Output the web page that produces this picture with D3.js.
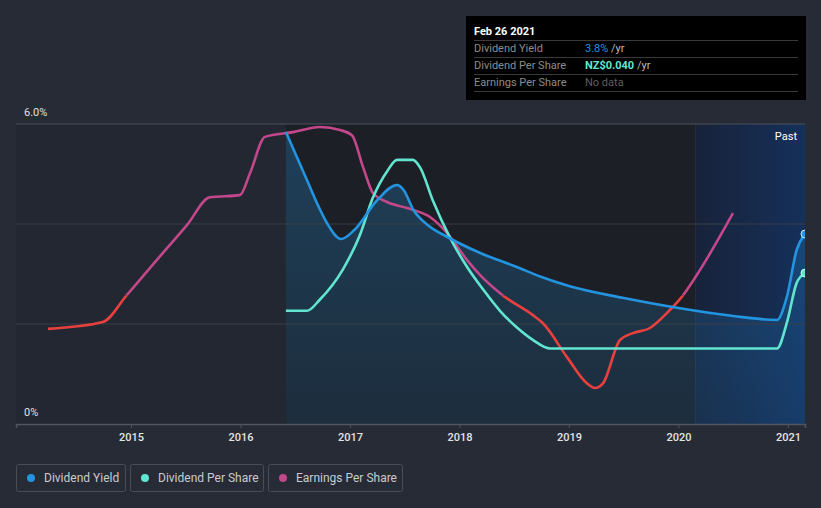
<!DOCTYPE html>
<html><head><meta charset="utf-8">
<script src="https://cdn.jsdelivr.net/npm/d3@7"></script>
<style>
body{margin:0;background:#262b36;}
svg{display:block;font-family:Roboto,"Open Sans",sans-serif;}
</style></head><body>
<svg id="c" width="821" height="508"></svg>
<script>
// ---- data (decimal years) ----
const xTickYears = [2015, 2016, 2017, 2018, 2019, 2020, 2021];
const yTickValues = [0, 6];
const yTickLabels = ["0%", "6.0%"];
const gridValues = [2, 4, 6];
const domainStart = 2013.95, domainEnd = 2021.156, pastStart = 2020.156;

const dyYears  = [2016.415, 2016.607, 2016.72, 2016.79, 2016.92, 2017.04, 2017.25, 2017.43, 2017.49, 2017.58, 2017.71, 2017.89, 2018.19, 2018.5, 2018.75, 2019.0, 2019.5, 2020.0, 2020.5, 2020.9, 2020.99, 2021.08, 2021.156];
const dyValues = [5.84, 4.88, 4.32, 4.02, 3.70, 3.88, 4.48, 4.78, 4.68, 4.28, 3.98, 3.74, 3.42, 3.16, 2.94, 2.76, 2.52, 2.32, 2.16, 2.08, 2.54, 3.48, 3.8];

const dpsYears  = [2016.415, 2016.607, 2016.726, 2016.936, 2017.09, 2017.21, 2017.34, 2017.43, 2017.575, 2017.64, 2017.76, 2017.91, 2018.07, 2018.22, 2018.37, 2018.52, 2018.67, 2018.83, 2020.90, 2020.99, 2021.08, 2021.156];
const dpsValues = [0.030, 0.030, 0.033, 0.041, 0.050, 0.060, 0.067, 0.070, 0.070, 0.068, 0.059, 0.0496, 0.0416, 0.0355, 0.030, 0.0257, 0.0223, 0.020, 0.020, 0.0268, 0.0374, 0.040];

const epsYears  = [2014.242, 2014.744, 2014.963, 2015.237, 2015.511, 2015.721, 2015.995, 2016.087, 2016.224, 2016.479, 2016.726, 2016.909, 2017.018, 2017.119, 2017.21, 2017.338, 2017.521, 2017.731, 2017.886, 2018.068, 2018.187, 2018.397, 2018.671, 2018.763, 2018.982, 2019.164, 2019.237, 2019.311, 2019.466, 2019.584, 2019.74, 2019.895, 2020.041, 2020.196, 2020.498];
const epsValues = [-0.0078, -0.0062, 0.0001, 0.0083, 0.0164, 0.0229, 0.0234, 0.0285, 0.037, 0.0381, 0.0393, 0.0386, 0.0374, 0.030, 0.0239, 0.0218, 0.0204, 0.0183, 0.0146, 0.0083, 0.0048, 0.0, -0.0046, -0.0065, -0.0144, -0.0205, -0.0216, -0.0205, -0.0104, -0.0088, -0.0076, -0.0041, 0.0, 0.0059, 0.0192];

const seriesNames = ["Dividend Yield", "Dividend Per Share", "Earnings Per Share"];
const tipTitle = "Feb 26 2021";
const tipValues = ["3.8%", "NZ$0.040", "No data"];

// ---- styles ----
const C_DY = "#2394df", C_DPS = "#62e5d0", C_EPS = "#c2478b", C_NEG = "#e8403f";
const SW = 2.6;

const svg = d3.select("#c");
const L = 16, R = 805, T = 124, B = 424;
const x = d3.scaleLinear().domain([domainStart, domainEnd]).range([L, R]);
const yDY = d3.scaleLinear().domain([0, 6]).range([B, T]);
const yDPS = d3.scaleLinear().domain([0, 0.0795]).range([B, T]);
const yEPS = d3.scaleLinear().domain([-0.03, 0.04]).range([B, T]);

const defs = svg.append("defs");
defs.append("clipPath").attr("id", "plot").append("rect").attr("x", L).attr("y", T - 10).attr("width", R - L).attr("height", B - T + 10);
defs.append("clipPath").attr("id", "pos").append("rect").attr("x", 0).attr("y", 0).attr("width", 821).attr("height", yEPS(0));
defs.append("clipPath").attr("id", "neg").append("rect").attr("x", 0).attr("y", yEPS(0)).attr("width", 821).attr("height", 508 - yEPS(0));
const pg = defs.append("linearGradient").attr("id", "pastG").attr("x1", 0).attr("x2", 1).attr("y1", 0).attr("y2", 0);
pg.append("stop").attr("offset", 0).attr("stop-color", "#18233a");
pg.append("stop").attr("offset", 1).attr("stop-color", "#15305a");
const ag = defs.append("linearGradient").attr("id", "areaG").attr("x1", 0).attr("x2", 0).attr("y1", 0).attr("y2", 1);
ag.append("stop").attr("offset", 0).attr("stop-color", C_DY).attr("stop-opacity", 0.28);
ag.append("stop").attr("offset", 1).attr("stop-color", C_DY).attr("stop-opacity", 0.12);

// backgrounds
svg.append("rect").attr("x", L).attr("y", T).attr("width", R - L).attr("height", B - T).attr("fill", "#232731");
svg.append("rect").attr("x", x(dyYears[0])).attr("y", T).attr("width", R - x(dyYears[0])).attr("height", B - T).attr("fill", "#1c1f26");
svg.append("rect").attr("x", x(pastStart)).attr("y", T).attr("width", R - x(pastStart)).attr("height", B - T).attr("fill", "url(#pastG)");
svg.append("line").attr("x1", x(pastStart)).attr("x2", x(pastStart)).attr("y1", T).attr("y2", B).attr("stroke", "rgba(255,255,255,0.05)");

// area under dividend yield
const dyData = dyYears.map((d, i) => [d, dyValues[i]]);
svg.append("path").datum(dyData)
  .attr("d", d3.area().x(d => x(d[0])).y0(B).y1(d => yDY(d[1])).curve(d3.curveMonotoneX))
  .attr("fill", "url(#areaG)");

// grid
svg.selectAll(".grid").data(gridValues).join("line")
  .attr("x1", L).attr("x2", R).attr("y1", d => yDY(d)).attr("y2", d => yDY(d))
  .attr("stroke", d => d === 6 ? "#4b505b" : "#3a3f4b").attr("stroke-width", 1);

// x axis
const xAxis = svg.append("g").attr("transform", `translate(0,${B})`)
  .call(d3.axisBottom(x).tickValues(xTickYears).tickFormat(d3.format("d")).tickSize(4).tickPadding(5));
xAxis.select(".domain").attr("stroke", "#50555f").attr("stroke-width", 1.5);
xAxis.selectAll(".tick line").attr("stroke", "#50555f");
xAxis.selectAll("text").attr("fill", "#e4e4e4").attr("font-size", 11).attr("font-family", "Roboto").attr("font-weight", 500);

// y labels
svg.selectAll(".ylab").data(yTickValues).join("text")
  .attr("x", 24).attr("y", d => yDY(d) - 12).attr("dy", "0.35em")
  .attr("fill", "#e0e0e0").attr("font-size", 11).text((d, i) => yTickLabels[i]);

// lines
const plot = svg.append("g").attr("clip-path", "url(#plot)");
const epsData = epsYears.map((d, i) => [d, epsValues[i]]);
const epsLine = d3.line().x(d => x(d[0])).y(d => yEPS(d[1])).curve(d3.curveMonotoneX);
plot.append("path").datum(epsData).attr("d", epsLine).attr("fill", "none").attr("stroke", C_EPS).attr("stroke-width", SW).attr("clip-path", "url(#pos)");
plot.append("path").datum(epsData).attr("d", epsLine).attr("fill", "none").attr("stroke", C_NEG).attr("stroke-width", SW).attr("clip-path", "url(#neg)");

const dpsData = dpsYears.map((d, i) => [d, dpsValues[i]]);
plot.append("path").datum(dpsData)
  .attr("d", d3.line().x(d => x(d[0])).y(d => yDPS(d[1])).curve(d3.curveMonotoneX))
  .attr("fill", "none").attr("stroke", C_DPS).attr("stroke-width", SW);
plot.append("path").datum(dyData)
  .attr("d", d3.line().x(d => x(d[0])).y(d => yDY(d[1])).curve(d3.curveMonotoneX))
  .attr("fill", "none").attr("stroke", C_DY).attr("stroke-width", SW);

// end markers
plot.append("circle").attr("cx", x(dyYears[dyYears.length - 1])).attr("cy", yDY(dyValues[dyValues.length - 1])).attr("r", 4)
  .attr("fill", C_DY).attr("stroke", "#cfe6f7").attr("stroke-width", 1);
plot.append("circle").attr("cx", x(dpsYears[dpsYears.length - 1])).attr("cy", yDPS(dpsValues[dpsValues.length - 1])).attr("r", 4)
  .attr("fill", C_DPS).attr("stroke", "#d6f7f1").attr("stroke-width", 1);

svg.append("text").attr("x", 797).attr("y", 136).attr("dy", "0.35em").attr("text-anchor", "end")
  .attr("fill", "#ffffff").attr("font-size", 11).text("Past");

// tooltip
const tip = svg.append("g");
tip.append("rect").attr("x", 466).attr("y", 16).attr("width", 340).attr("height", 84).attr("fill", "#000");
tip.append("text").attr("x", 474).attr("y", 31).attr("dy", "0.35em").attr("fill", "#fff").attr("font-size", 11).attr("font-weight", "bold").text(tipTitle);
const rowY = [48, 65, 82];
[40, 57, 74, 91].forEach(yy => tip.append("line").attr("x1", 474).attr("x2", 798).attr("y1", yy + 0.5).attr("y2", yy + 0.5).attr("stroke", "#3a3a3a"));
const valColors = [C_DY, C_DPS, "#5f5f5f"];
seriesNames.forEach((n, i) => {
  tip.append("text").attr("x", 474).attr("y", rowY[i]).attr("dy", "0.35em").attr("fill", "#8c8c8c").attr("font-size", 11).text(n);
  const t = tip.append("text").attr("x", 585).attr("y", rowY[i]).attr("dy", "0.35em").attr("font-size", 11);
  t.append("tspan").attr("fill", valColors[i]).attr("font-weight", i === 1 ? "bold" : "normal").text(tipValues[i]);
  if (i < 2) t.append("tspan").attr("fill", "#bdbdbd").text(" /yr");
});

// legend
const legX = [16, 130, 268], legW = [109, 133, 134], legC = [C_DY, C_DPS, C_EPS];
seriesNames.forEach((n, i) => {
  const g = svg.append("g").attr("transform", `translate(${legX[i]},464)`);
  g.append("rect").attr("x", 0.5).attr("y", 0.5).attr("width", legW[i]).attr("height", 27).attr("rx", 2).attr("fill", "none").attr("stroke", "#484d58");
  g.append("circle").attr("cx", 15).attr("cy", 14).attr("r", 4).attr("fill", legC[i]);
  g.append("text").attr("x", 28).attr("y", 14).attr("dy", "0.35em").attr("fill", "#c8cbd0").attr("font-size", 12).text(n);
});
</script>
</body></html>
